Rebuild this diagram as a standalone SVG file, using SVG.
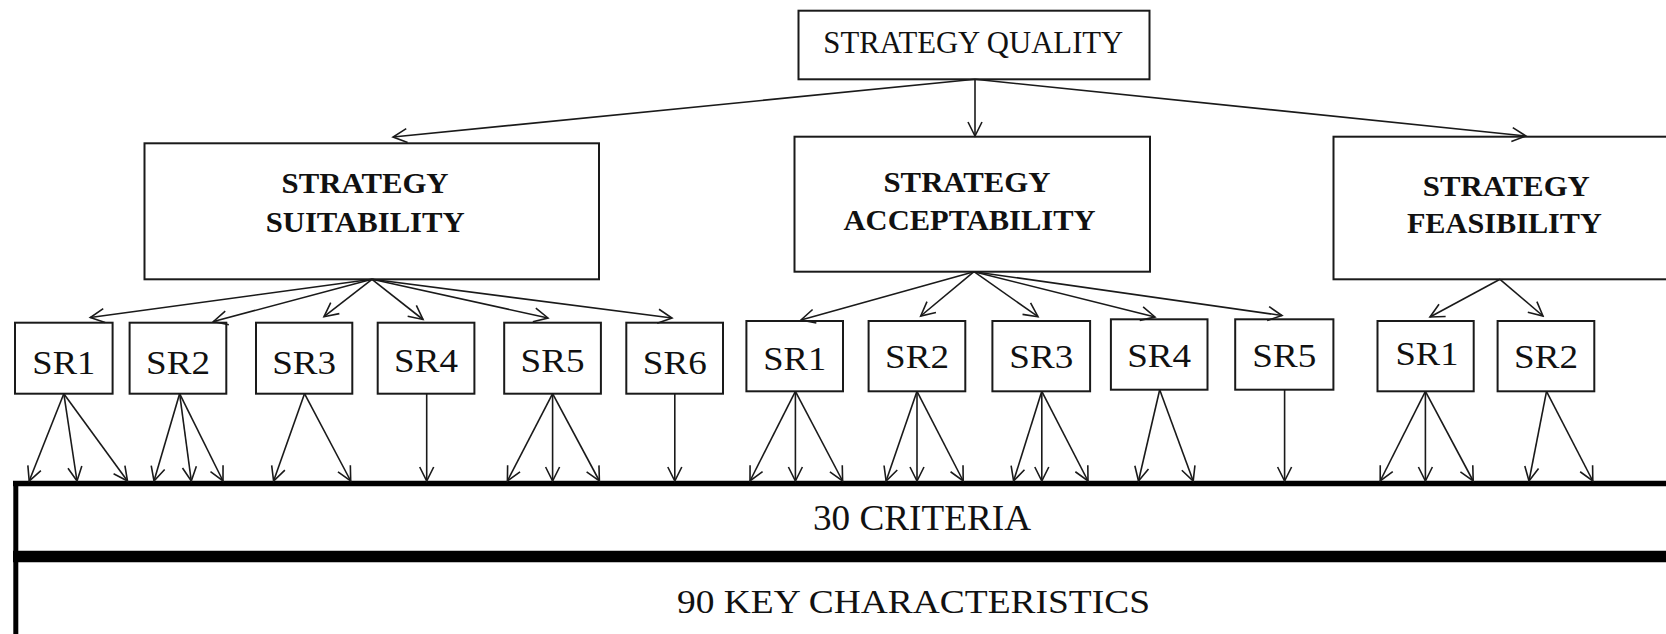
<svg xmlns="http://www.w3.org/2000/svg" width="1666" height="634" viewBox="0 0 1666 634">
<style>
.box{fill:#fff;stroke:#1a1a1a;stroke-width:2}
.lbl{font-family:"Liberation Serif","Times New Roman",serif;fill:#111}
.b{font-weight:bold;font-size:30px}
.sr{font-size:34px;text-anchor:middle}
.c line{stroke:#1a1a1a;stroke-width:1.6;marker-end:url(#ah)}
.bar{stroke:#000;fill:none}
</style>
<defs>
<marker id="ah" markerUnits="userSpaceOnUse" viewBox="-16 -9 18 18" refX="0" refY="0" markerWidth="18" markerHeight="18" orient="auto">
<path d="M-14,-7 L0,0 L-14,7" fill="none" stroke="#1a1a1a" stroke-width="1.6"/>
</marker>
</defs>
<rect width="1666" height="634" fill="#fff"/>

<g id="bar">
<line class="bar" x1="13" y1="483.5" x2="1666" y2="483.5" stroke-width="5.5"/>
<line class="bar" x1="15.8" y1="481" x2="15.8" y2="634" stroke-width="5"/>
<line class="bar" x1="13" y1="556.5" x2="1666" y2="556.5" stroke-width="11.5"/>
<text class="lbl" x="813" y="530" font-size="35" textLength="218" lengthAdjust="spacingAndGlyphs">30 CRITERIA</text>
<text class="lbl" x="677" y="613" font-size="34" textLength="473" lengthAdjust="spacingAndGlyphs">90 KEY CHARACTERISTICS</text>
</g>

<g id="quality">
<rect class="box" x="798.5" y="10.7" width="351" height="68.6"/>
<text class="lbl" x="823.3" y="53.3" font-size="32" textLength="300" lengthAdjust="spacingAndGlyphs">STRATEGY QUALITY</text>
</g>

<g id="suitability">
<rect class="box" x="144.5" y="143.3" width="454.5" height="136"/>
<text class="lbl b" x="281.6" y="193" textLength="167" lengthAdjust="spacingAndGlyphs">STRATEGY</text>
<text class="lbl b" x="265.7" y="232" textLength="199" lengthAdjust="spacingAndGlyphs">SUITABILITY</text>
</g>

<g id="acceptability">
<rect class="box" x="794.5" y="136.7" width="355.5" height="135"/>
<text class="lbl b" x="883.5" y="191.7" textLength="167" lengthAdjust="spacingAndGlyphs">STRATEGY</text>
<text class="lbl b" x="843.6" y="230" textLength="252" lengthAdjust="spacingAndGlyphs">ACCEPTABILITY</text>
</g>

<g id="feasibility">
<rect class="box" x="1333.5" y="136.7" width="340" height="142.6"/>
<text class="lbl b" x="1422.8" y="195.5" textLength="167" lengthAdjust="spacingAndGlyphs">STRATEGY</text>
<text class="lbl b" x="1406.9" y="233.3" textLength="195" lengthAdjust="spacingAndGlyphs">FEASIBILITY</text>
</g>

<g id="suit-sr1"><rect class="box" x="15" y="322.7" width="97.6" height="71"/><text class="lbl sr" x="63.8" y="374" textLength="63" lengthAdjust="spacingAndGlyphs">SR1</text></g>
<g id="suit-sr2"><rect class="box" x="129.6" y="322.7" width="96.7" height="71"/><text class="lbl sr" x="178" y="374" textLength="64" lengthAdjust="spacingAndGlyphs">SR2</text></g>
<g id="suit-sr3"><rect class="box" x="256" y="322.7" width="96.3" height="71"/><text class="lbl sr" x="304.2" y="374" textLength="64" lengthAdjust="spacingAndGlyphs">SR3</text></g>
<g id="suit-sr4"><rect class="box" x="377.7" y="322.7" width="96.7" height="71"/><text class="lbl sr" x="426" y="372" textLength="64" lengthAdjust="spacingAndGlyphs">SR4</text></g>
<g id="suit-sr5"><rect class="box" x="504.2" y="322.7" width="96.7" height="71"/><text class="lbl sr" x="552.6" y="372" textLength="64" lengthAdjust="spacingAndGlyphs">SR5</text></g>
<g id="suit-sr6"><rect class="box" x="626.3" y="322.7" width="96.7" height="71"/><text class="lbl sr" x="674.8" y="374" textLength="64" lengthAdjust="spacingAndGlyphs">SR6</text></g>

<g id="acc-sr1"><rect class="box" x="746.4" y="321" width="96.6" height="70.3"/><text class="lbl sr" x="794.7" y="370" textLength="63" lengthAdjust="spacingAndGlyphs">SR1</text></g>
<g id="acc-sr2"><rect class="box" x="868.6" y="321" width="96.7" height="70.3"/><text class="lbl sr" x="917" y="368.3" textLength="64" lengthAdjust="spacingAndGlyphs">SR2</text></g>
<g id="acc-sr3"><rect class="box" x="992.4" y="321" width="97.7" height="70.3"/><text class="lbl sr" x="1041.3" y="368.3" textLength="64" lengthAdjust="spacingAndGlyphs">SR3</text></g>
<g id="acc-sr4"><rect class="box" x="1110.9" y="319.3" width="96.6" height="70.4"/><text class="lbl sr" x="1159.2" y="366.7" textLength="64" lengthAdjust="spacingAndGlyphs">SR4</text></g>
<g id="acc-sr5"><rect class="box" x="1235.2" y="319.3" width="98.2" height="70.4"/><text class="lbl sr" x="1284.3" y="366.7" textLength="64" lengthAdjust="spacingAndGlyphs">SR5</text></g>

<g id="feas-sr1"><rect class="box" x="1377.5" y="321" width="96.2" height="70.3"/><text class="lbl sr" x="1427" y="365" textLength="63" lengthAdjust="spacingAndGlyphs">SR1</text></g>
<g id="feas-sr2"><rect class="box" x="1497.6" y="321" width="96.7" height="70.3"/><text class="lbl sr" x="1546" y="368" textLength="64" lengthAdjust="spacingAndGlyphs">SR2</text></g>

<g id="connectors" class="c">
<line x1="975" y1="79.3" x2="393" y2="137"/>
<line x1="975" y1="79.3" x2="975" y2="136"/>
<line x1="975" y1="79.3" x2="1526" y2="136"/>

<line x1="372" y1="279.3" x2="90.3" y2="317.5"/>
<line x1="372" y1="279.3" x2="213.5" y2="321.5"/>
<line x1="372" y1="279.3" x2="324" y2="316.7"/>
<line x1="372" y1="279.3" x2="423" y2="319.5"/>
<line x1="372" y1="279.3" x2="548" y2="318"/>
<line x1="372" y1="279.3" x2="672" y2="318"/>

<line x1="974" y1="271.7" x2="801" y2="320"/>
<line x1="974" y1="271.7" x2="920.7" y2="316"/>
<line x1="974" y1="271.7" x2="1038" y2="316.7"/>
<line x1="974" y1="271.7" x2="1155" y2="317"/>
<line x1="974" y1="271.7" x2="1282" y2="315.5"/>

<line x1="1500" y1="279.3" x2="1430" y2="317"/>
<line x1="1500" y1="279.3" x2="1543" y2="316"/>

<line x1="63.8" y1="393.7" x2="29.2" y2="481"/>
<line x1="63.8" y1="393.7" x2="77" y2="481"/>
<line x1="63.8" y1="393.7" x2="127.5" y2="481"/>
<line x1="179.6" y1="393.7" x2="154" y2="481"/>
<line x1="179.6" y1="393.7" x2="191.3" y2="481"/>
<line x1="179.6" y1="393.7" x2="223" y2="481"/>
<line x1="304.5" y1="393.7" x2="273.6" y2="481"/>
<line x1="304.5" y1="393.7" x2="350.7" y2="481"/>
<line x1="426.7" y1="393.7" x2="426.7" y2="481"/>
<line x1="552.6" y1="393.7" x2="507.4" y2="481"/>
<line x1="552.6" y1="393.7" x2="552.6" y2="481"/>
<line x1="552.6" y1="393.7" x2="599.4" y2="481"/>
<line x1="674.8" y1="393.7" x2="674.8" y2="481"/>

<line x1="795.4" y1="391.3" x2="750" y2="481"/>
<line x1="795.4" y1="391.3" x2="795.4" y2="481"/>
<line x1="795.4" y1="391.3" x2="842.6" y2="481"/>
<line x1="917" y1="391.3" x2="886.1" y2="481"/>
<line x1="917" y1="391.3" x2="917" y2="481"/>
<line x1="917" y1="391.3" x2="963.2" y2="481"/>
<line x1="1041.8" y1="391.3" x2="1013.6" y2="481"/>
<line x1="1041.8" y1="391.3" x2="1041.8" y2="481"/>
<line x1="1041.8" y1="391.3" x2="1088" y2="481"/>
<line x1="1159.7" y1="389.7" x2="1138.5" y2="481"/>
<line x1="1159.7" y1="389.7" x2="1193.2" y2="481"/>
<line x1="1284.6" y1="389.7" x2="1284.6" y2="481"/>

<line x1="1425.4" y1="391.3" x2="1380.2" y2="481"/>
<line x1="1425.4" y1="391.3" x2="1425.4" y2="481"/>
<line x1="1425.4" y1="391.3" x2="1473.2" y2="481"/>
<line x1="1546.5" y1="391.3" x2="1529" y2="481"/>
<line x1="1546.5" y1="391.3" x2="1592.8" y2="481"/>
</g>
</svg>
